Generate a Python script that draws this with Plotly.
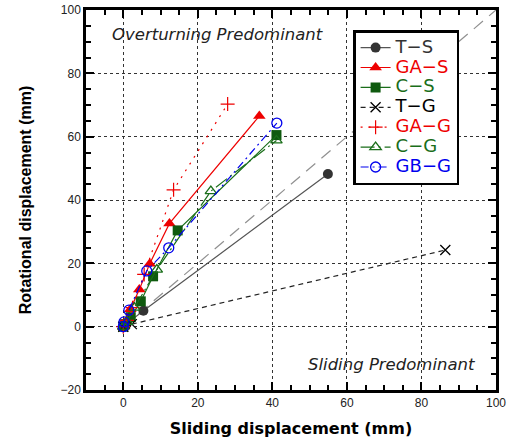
import plotly.graph_objects as go

# Data (mm)
ts_x = [0, 0.8, 5.4, 54.9]
ts_y = [0, 0.8, 5.0, 48.2]

gas_x = [0, 0.6, 1.9, 4.3, 7.1, 12.4, 36.5]
gas_y = [0, 1.5, 5.5, 11.7, 19.9, 32.6, 66.5]

cs_x = [0, 0.5, 2.0, 4.7, 8.0, 14.6, 41.1]
cs_y = [0, 0.8, 3.0, 8.0, 15.9, 30.4, 60.5]

tg_x = [0, 2.3, 86.4]
tg_y = [0, 0.8, 24.2]

gag_x = [0, 1.0, 2.5, 5.6, 13.5, 28.0]
gag_y = [0, 2.0, 6.0, 16.5, 43.2, 70.3]

cg_x = [0, 1.0, 3.0, 9.0, 23.5, 41.1]
cg_y = [0, 1.5, 6.0, 18.0, 42.8, 58.8]

gbg_x = [0, 0.2, 1.5, 6.3, 12.2, 41.2]
gbg_y = [0, 1.5, 5.2, 17.6, 24.9, 64.3]

diag = [0, 100]

RED = "#ee0000"
GREEN = "#1a6e1a"
BLUE = "#0000ee"
LEGFONT = "font-size:18px"


def lname(txt, color):
    return f"<span style='color:{color};{LEGFONT}'>{txt}</span>"


fig = go.Figure()

fig.add_trace(go.Scatter(x=diag, y=diag, mode="lines", showlegend=False,
                         line=dict(color="#909090", width=1.2, dash="12px,8px")))

fig.add_trace(go.Scatter(x=ts_x, y=ts_y, mode="lines+markers",
                         name=lname("T\u2212S", "#333333"),
                         line=dict(color="#555555", width=1.2),
                         marker=dict(symbol="circle", size=10, color="#333333")))
fig.add_trace(go.Scatter(x=gas_x, y=gas_y, mode="lines+markers",
                         name=lname("GA\u2212S", RED),
                         line=dict(color=RED, width=1.2),
                         marker=dict(symbol="triangle-up", size=11, color=RED)))
fig.add_trace(go.Scatter(x=cs_x, y=cs_y, mode="lines+markers",
                         name=lname("C\u2212S", GREEN),
                         line=dict(color=GREEN, width=1.2),
                         marker=dict(symbol="square", size=10, color="#0f5a0f")))
fig.add_trace(go.Scatter(x=tg_x, y=tg_y, mode="lines+markers",
                         name=lname("T\u2212G", "#000000"),
                         line=dict(color="#222222", width=1.2, dash="5px,4px"),
                         marker=dict(symbol="x-thin", size=10, color="#000000",
                                     line=dict(width=1.3, color="#000000"))))
fig.add_trace(go.Scatter(x=gag_x, y=gag_y, mode="lines+markers",
                         name=lname("GA\u2212G", RED),
                         line=dict(color=RED, width=1.2, dash="2px,6px"),
                         marker=dict(symbol="cross-thin", size=10, color=RED,
                                     line=dict(width=1.2, color=RED))))
fig.add_trace(go.Scatter(x=cg_x, y=cg_y, mode="lines+markers",
                         name=lname("C\u2212G", GREEN),
                         line=dict(color=GREEN, width=1.2, dash="14px,4px,2px,4px"),
                         marker=dict(symbol="triangle-up-open", size=10, color=GREEN,
                                     line=dict(width=1.3, color=GREEN))))
fig.add_trace(go.Scatter(x=gbg_x, y=gbg_y, mode="lines+markers",
                         name=lname("GB\u2212G", BLUE),
                         line=dict(color=BLUE, width=1.2, dash="8px,4px,2px,4px"),
                         marker=dict(symbol="circle-open", size=10, color=BLUE,
                                     line=dict(width=1.3, color=BLUE))))

ANN_FONT = dict(size=16.5, color="#222222", family="DejaVu Sans, sans-serif")
fig.add_annotation(x=-3.5, y=92.4, xref="x", yref="y", text="<i>Overturning Predominant</i>",
                   showarrow=False, xanchor="left", yanchor="middle", font=ANN_FONT)
fig.add_annotation(x=95, y=-12, xref="x", yref="y", text="<i>Sliding Predominant</i>",
                   showarrow=False, xanchor="right", yanchor="middle", font=ANN_FONT)

axis_common = dict(
    showline=True, linewidth=2.5, linecolor="black", mirror="allticks",
    ticks="inside", ticklen=8, tickwidth=2, tickcolor="black",
    showgrid=True, gridcolor="#333333", griddash="dot", gridwidth=1,
    zeroline=False, automargin=False,
    tickfont=dict(size=12, color="#222222", family="Liberation Sans, Arial, sans-serif"),
    minor=dict(dtick=5, ticks="inside", ticklen=5, tickwidth=1.5, tickcolor="black", showgrid=False),
)

fig.update_xaxes(range=[-10, 100], dtick=20, tick0=0,
                 title=dict(text="<b>Sliding displacement (mm)</b>", standoff=14,
                            font=dict(size=16, color="black", family="DejaVu Sans, sans-serif")),
                 **axis_common)
fig.update_yaxes(range=[-20, 100], dtick=20, tick0=0,
                 title=dict(text="<b>Rotational displacement (mm)</b>", standoff=25,
                            font=dict(size=16, color="black", family="Liberation Sans, Arial, sans-serif")),
                 **axis_common)

fig.update_layout(
    width=513, height=445,
    margin=dict(l=86, r=17, t=10, b=55),
    plot_bgcolor="white", paper_bgcolor="white",
    legend=dict(x=0.91, y=0.947, xanchor="right", yanchor="top",
                bgcolor="white", bordercolor="black", borderwidth=2.5,
                font=dict(size=13, family="DejaVu Sans, sans-serif"),
                tracegroupgap=0),
)

fig.write_html("out.html")
